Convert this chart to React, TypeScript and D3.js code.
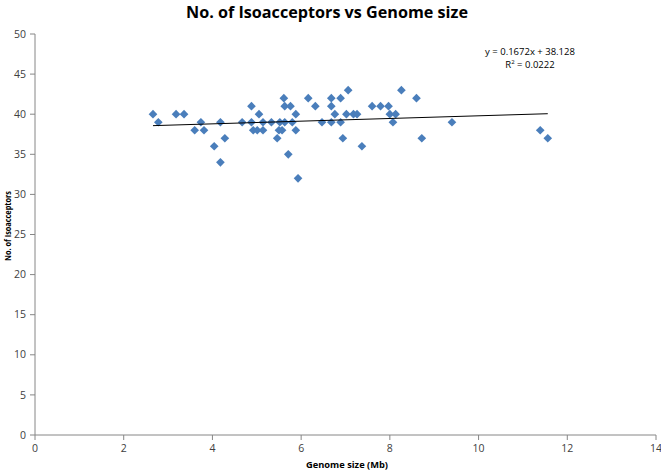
import React from "react";
import * as d3 from "d3";

// genome size (Mb) vs number of isoacceptors
const genomeSize = [
  2.66, 2.78, 3.18, 3.36, 3.6, 3.74, 3.81, 4.04, 4.18, 4.18, 4.28,
  4.67, 4.88, 4.88, 4.92, 5.01, 5.05, 5.14, 5.14, 5.33, 5.46, 5.5, 5.52, 5.57,
  5.61, 5.63, 5.63, 5.71, 5.76, 5.8, 5.88, 5.88, 5.93, 6.16, 6.32, 6.47,
  6.68, 6.68, 6.68, 6.76, 6.89, 6.89, 6.94, 7.02, 7.06, 7.18, 7.26, 7.37,
  7.6, 7.79, 7.97, 8.0, 8.07, 8.13, 8.26, 8.6, 8.72, 9.4, 11.39, 11.56
];
const isoacceptors = [
  40, 39, 40, 40, 38, 39, 38, 36, 39, 34, 37,
  39, 41, 39, 38, 38, 40, 39, 38, 39, 37, 38, 39, 38,
  42, 41, 39, 35, 41, 39, 40, 38, 32, 42, 41, 39,
  42, 41, 39, 40, 42, 39, 37, 40, 43, 40, 40, 36,
  41, 41, 41, 40, 39, 40, 43, 42, 37, 39, 38, 37
];
const xTicks = [0, 2, 4, 6, 8, 10, 12, 14];
const yTicks = [0, 5, 10, 15, 20, 25, 30, 35, 40, 45, 50];
const slope = 0.1672;
const intercept = 38.128;

const width = 661;
const height = 471;
const margin = { top: 34, right: 5, bottom: 36, left: 35 };
const font = "Open Sans, Liberation Sans, sans-serif";

const App = () => {
  const x = d3.scaleLinear().domain([0, 14]).range([margin.left, width - margin.right]);
  const y = d3.scaleLinear().domain([0, 50]).range([height - margin.bottom, margin.top]);
  const points = genomeSize.map((g, i) => [g, isoacceptors[i]]);
  const diamond = d3.symbol().type(d3.symbolDiamond2).size(48)();
  const xMin = d3.min(genomeSize) as number;
  const xMax = d3.max(genomeSize) as number;
  const trend = d3.line()
    .x((d) => x(d[0]))
    .y((d) => y(d[1]))([[xMin, slope * xMin + intercept], [xMax, slope * xMax + intercept]]);
  const axisColor = "#868686";
  const tickColor = "#404040";

  return (
    <svg width={width} height={height} style={{ position: "absolute", left: 0, top: 0, background: "#fff" }}>
      <text x={327} y={18} textAnchor="middle" fontFamily={font} fontWeight="bold" fontSize={16}
        textLength={282} lengthAdjust="spacingAndGlyphs" fill="#000">
        No. of Isoacceptors vs Genome size
      </text>

      {/* y axis */}
      <line x1={x(0)} x2={x(0)} y1={y(0)} y2={y(50)} stroke={axisColor} />
      {yTicks.map((t) => (
        <g key={"y" + t}>
          <line x1={x(0) - 5} x2={x(0)} y1={y(t)} y2={y(t)} stroke={axisColor} />
          <text x={x(0) - 9} y={y(t)} dy="0.35em" textAnchor="end" fontFamily={font} fontSize={10.5} fill={tickColor}>{t}</text>
        </g>
      ))}

      {/* x axis */}
      <line x1={x(0)} x2={x(14)} y1={y(0)} y2={y(0)} stroke={axisColor} />
      {xTicks.map((t) => (
        <g key={"x" + t}>
          <line x1={x(t)} x2={x(t)} y1={y(0)} y2={y(0) + 5} stroke={axisColor} />
          <text x={x(t)} y={y(0) + 17} textAnchor="middle" fontFamily={font} fontSize={10.5} fill={tickColor}>{t}</text>
        </g>
      ))}

      <text x={347} y={468} textAnchor="middle" fontFamily={font} fontWeight="bold" fontSize={9.5}
        textLength={82} lengthAdjust="spacingAndGlyphs" fill="#000">Genome size (Mb)</text>
      <text transform="translate(11,226) rotate(-90)" textAnchor="middle" fontFamily={font} fontWeight="bold" fontSize={9}
        textLength={70} lengthAdjust="spacingAndGlyphs" fill="#000">No. of Isoacceptors</text>

      {points.map((d, i) => (
        <path key={i} d={diamond} transform={`translate(${x(d[0])},${y(d[1])})`} fill="#4a7ebb" />
      ))}

      <path d={trend} fill="none" stroke="#000" strokeWidth={1} />

      <text x={530} y={55} textAnchor="middle" fontFamily={font} fontSize={9.5} fill="#000">
        y = 0.1672x + 38.128
      </text>
      <text x={530} y={68} textAnchor="middle" fontFamily={font} fontSize={9.5} fill="#000">
        R<tspan dy="-4" fontSize={6}>2</tspan><tspan dy="4"> = 0.0222</tspan>
      </text>
    </svg>
  );
};

export default App;
